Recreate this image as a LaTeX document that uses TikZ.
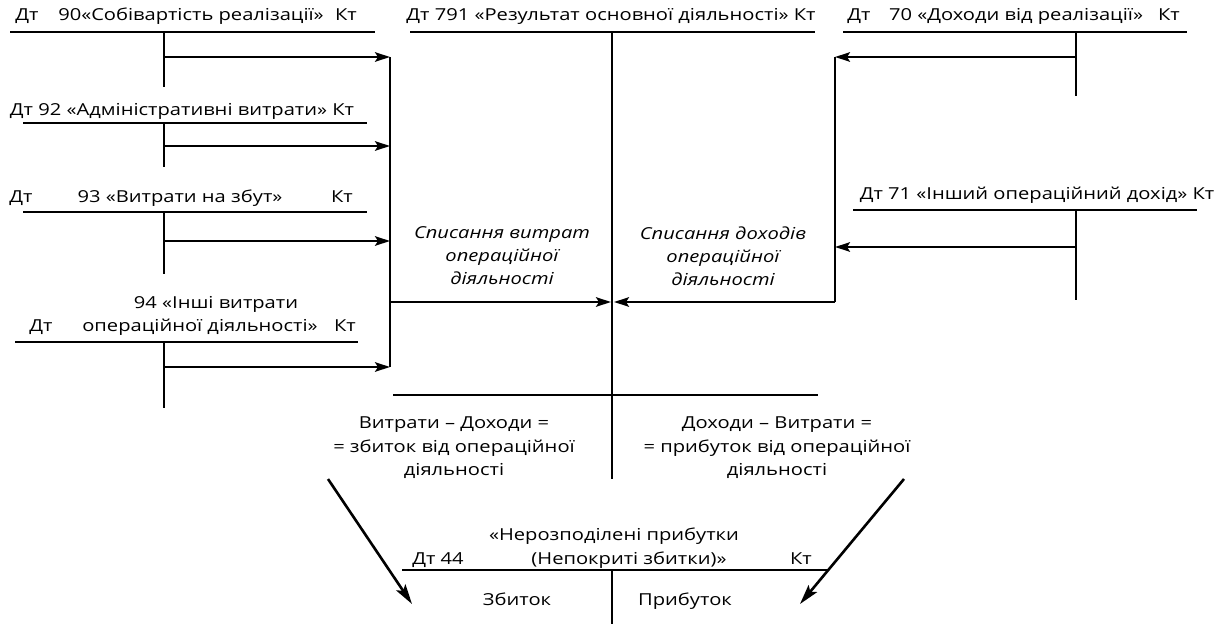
\documentclass[tikz,border=0pt]{standalone}
\usepackage{fontspec}
\setmainfont{Open Sans}[FakeStretch=1.22]
\usetikzlibrary{arrows.meta}
\begin{document}
\begin{tikzpicture}[x=1pt,y=-1pt,
  lbl/.style={inner sep=0pt, text height=12pt, text depth=4pt,
              font=\fontsize{16.5}{23}\selectfont, text=black},
  blk/.style={inner sep=0pt, align=center,
              font=\fontsize{16.5}{23.5}\selectfont, text=black},
  itl/.style={blk, font=\fontsize{16.5}{23}\selectfont\itshape},
  tline/.style={line width=1.6pt},
  bracket/.style={line width=2.2pt},
  flow/.style={line width=2.2pt, -{Stealth[length=15pt,width=9.5pt,inset=3pt]}},
  result/.style={line width=2.6pt, -{Stealth[length=20pt,width=11pt,inset=4pt]}}]
\useasboundingbox[fill=white] (0,0) rectangle (1232,624);

% ---------- account 90
\node[lbl] (dt90) at (27,16) {Дт};
\node[lbl] (n90)  at (191,16) {90«Собівартість реалізації»};
\node[lbl] (kt90) at (346,16) {Кт};
\coordinate (h90a) at (10,32);  \coordinate (h90b) at (375,32);
\coordinate (v90a) at (164,32); \coordinate (v90b) at (164,87);
\coordinate (o90)  at (164,57);
\draw[tline] (h90a) -- (h90b);
\draw[tline] (v90a) -- (v90b);

% ---------- account 92
\node[lbl] (n92) at (182,111) {Дт 92 «Адміністративні витрати» Кт};
\coordinate (h92a) at (23,123);  \coordinate (h92b) at (367,123);
\coordinate (v92a) at (164,123); \coordinate (v92b) at (164,167);
\coordinate (o92)  at (164,146);
\draw[tline] (h92a) -- (h92b);
\draw[tline] (v92a) -- (v92b);

% ---------- account 93
\node[lbl] (dt93) at (21,198) {Дт};
\node[lbl] (n93)  at (180,198) {93 «Витрати на збут»};
\node[lbl] (kt93) at (342,198) {Кт};
\coordinate (h93a) at (23,212);  \coordinate (h93b) at (367,212);
\coordinate (v93a) at (164,212); \coordinate (v93b) at (164,274);
\coordinate (o93)  at (164,241);
\draw[tline] (h93a) -- (h93b);
\draw[tline] (v93a) -- (v93b);

% ---------- account 94
\node[lbl] (n94a) at (216,304) {94 «Інші витрати};
\node[lbl] (dt94) at (41,327)  {Дт};
\node[lbl] (n94b) at (200,327) {операційної діяльності»};
\node[lbl] (kt94) at (345,327) {Кт};
\coordinate (h94a) at (15,342);  \coordinate (h94b) at (358,342);
\coordinate (v94a) at (164,342); \coordinate (v94b) at (164,408);
\coordinate (o94)  at (164,367);
\draw[tline] (h94a) -- (h94b);
\draw[tline] (v94a) -- (v94b);

% ---------- account 791
\node[lbl] (n791) at (611,16) {Дт 791 «Результат основної діяльності» Кт};
\coordinate (h791a) at (410,32);  \coordinate (h791b) at (815,32);
\coordinate (v791a) at (612,32);  \coordinate (v791b) at (612,479);
\coordinate (c791)  at (612,302);
\coordinate (h791c) at (393,395); \coordinate (h791d) at (818,395);
\draw[tline] (h791a) -- (h791b);
\draw[tline] (v791a) -- (v791b);
\draw[tline] (h791c) -- (h791d);

% ---------- account 70
\node[lbl] (dt70) at (859,16)  {Дт};
\node[lbl] (n70)  at (1016,16) {70 «Доходи від реалізації»};
\node[lbl] (kt70) at (1169,16) {Кт};
\coordinate (h70a) at (843,32);   \coordinate (h70b) at (1187,32);
\coordinate (v70a) at (1076,32);  \coordinate (v70b) at (1076,96);
\coordinate (o70)  at (1076,57);
\draw[tline] (h70a) -- (h70b);
\draw[tline] (v70a) -- (v70b);

% ---------- account 71
\node[lbl] (n71) at (1037,195) {Дт 71 «Інший операційний дохід» Кт};
\coordinate (h71a) at (853,210);  \coordinate (h71b) at (1197,210);
\coordinate (v71a) at (1076,210); \coordinate (v71b) at (1076,300);
\coordinate (o71)  at (1076,247);
\draw[tline] (h71a) -- (h71b);
\draw[tline] (v71a) -- (v71b);

% ---------- collecting brackets
\coordinate (bl1) at (390,57);  \coordinate (bl2) at (390,146);
\coordinate (bl3) at (390,241); \coordinate (bl4) at (390,367);
\coordinate (blm) at (390,302);
\coordinate (br1) at (835,57);  \coordinate (br2) at (835,247);
\coordinate (brm) at (835,302);
\draw[bracket] (bl1) -- (bl4);
\draw[bracket] (br1) -- (brm);

\draw[flow] (o90) -- (bl1);
\draw[flow] (o92) -- (bl2);
\draw[flow] (o93) -- (bl3);
\draw[flow] (o94) -- (bl4);
\draw[flow] (o70) -- (br1);
\draw[flow] (o71) -- (br2);
\draw[flow] (blm) -- ([xshift=-1pt]c791);
\draw[flow] (brm) -- ([xshift=2pt]c791);

\node[itl] (wexp) at (502,256) {Списання витрат\\операційної\\діяльності};
\node[itl] (winc) at (723,256) {Списання доходів\\операційної\\діяльності};

% ---------- balance of 791
\node[blk] (loss)   at (454,448) {Витрати – Доходи =\\= збиток від операційної\\діяльності};
\node[blk] (profit) at (777,448) {Доходи – Витрати =\\= прибуток від операційної\\діяльності};

% ---------- account 44
\node[lbl] (n44a) at (614,536) {«Нерозподілені прибутки};
\node[lbl] (dt44) at (438,560) {Дт 44};
\node[lbl] (n44b) at (629,560) {(Непокриті збитки)»};
\node[lbl] (kt44) at (801,560) {Кт};
\coordinate (h44a) at (402,570); \coordinate (h44b) at (827,570);
\coordinate (v44a) at (612,570); \coordinate (v44b) at (612,624);
\draw[tline] (h44a) -- (h44b);
\draw[tline] (v44a) -- (v44b);
\node[lbl] (dr44) at (517,601) {Збиток};
\node[lbl] (cr44) at (685,601) {Прибуток};

\coordinate (ls) at (328,479); \coordinate (le) at (412,604);
\coordinate (ps) at (904,479); \coordinate (pe) at (800,604);
\draw[result] (ls) -- (le);
\draw[result] (ps) -- (pe);
\end{tikzpicture}
\end{document}
